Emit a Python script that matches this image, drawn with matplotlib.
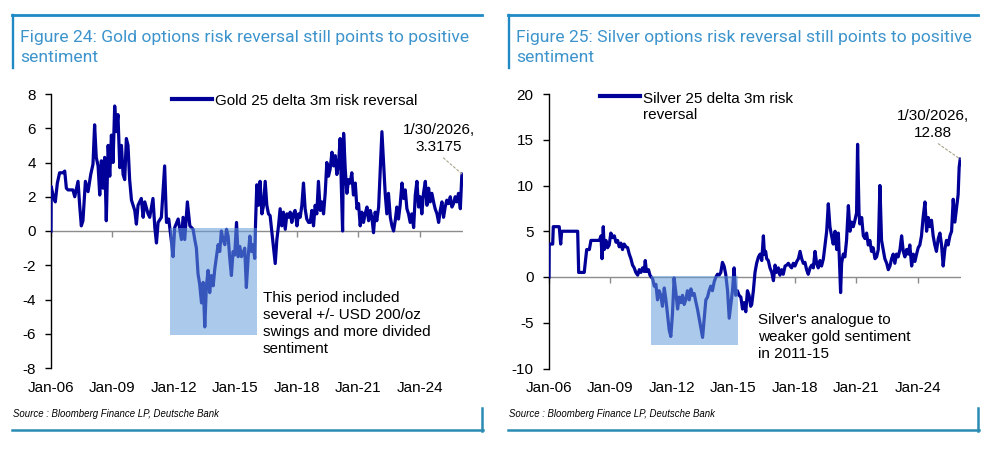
import matplotlib
matplotlib.use("Agg")
import matplotlib.pyplot as plt
from matplotlib.lines import Line2D
from matplotlib.patches import Rectangle

# ---------------- data (decimal years) ----------------
gold_t = [2006.00, 2006.01, 2006.10, 2006.21, 2006.31, 2006.42, 2006.59, 2006.67, 2006.75, 2006.83,
          2007.07, 2007.16, 2007.32, 2007.40, 2007.48, 2007.56, 2007.68, 2007.81, 2007.94, 2008.05,
          2008.13, 2008.21, 2008.30, 2008.38, 2008.46, 2008.54, 2008.62, 2008.70, 2008.79, 2008.87,
          2008.95, 2009.03, 2009.11, 2009.19, 2009.27, 2009.36, 2009.44, 2009.52, 2009.60, 2009.68,
          2009.76, 2009.84, 2009.93, 2010.09, 2010.17, 2010.25, 2010.41, 2010.50, 2010.58, 2010.74,
          2010.82, 2010.98, 2011.07, 2011.15, 2011.23, 2011.39, 2011.55, 2011.64, 2011.75, 2011.88,
          2011.96, 2012.04, 2012.21, 2012.37, 2012.45, 2012.53, 2012.66, 2012.78, 2012.94, 2013.02,
          2013.10, 2013.18, 2013.26, 2013.35, 2013.43, 2013.51, 2013.59, 2013.67, 2013.75, 2013.83,
          2013.92, 2014.00, 2014.08, 2014.16, 2014.24, 2014.32, 2014.40, 2014.49, 2014.57, 2014.65,
          2014.73, 2014.81, 2014.89, 2014.97, 2015.06, 2015.14, 2015.22, 2015.30, 2015.38, 2015.46,
          2015.54, 2015.63, 2015.71, 2015.79, 2015.87, 2015.95, 2015.99, 2016.05, 2016.13, 2016.21,
          2016.30, 2016.38, 2016.46, 2016.54, 2016.62, 2016.70, 2016.78, 2016.87, 2016.95, 2017.03,
          2017.11, 2017.19, 2017.27, 2017.35, 2017.44, 2017.52, 2017.60, 2017.68, 2017.76, 2017.84,
          2017.92, 2018.01, 2018.09, 2018.17, 2018.25, 2018.33, 2018.41, 2018.49, 2018.58, 2018.66,
          2018.74, 2018.82, 2018.90, 2018.98, 2019.06, 2019.15, 2019.23, 2019.31, 2019.39, 2019.47,
          2019.55, 2019.63, 2019.72, 2019.80, 2019.88, 2019.96, 2020.04, 2020.12, 2020.17, 2020.24,
          2020.29, 2020.37, 2020.45, 2020.53, 2020.61, 2020.69, 2020.77, 2020.86, 2020.94, 2021.02,
          2021.10, 2021.18, 2021.26, 2021.34, 2021.43, 2021.51, 2021.59, 2021.67, 2021.75, 2021.83,
          2021.91, 2022.00, 2022.08, 2022.16, 2022.24, 2022.32, 2022.40, 2022.48, 2022.57, 2022.65,
          2022.73, 2022.81, 2022.89, 2022.97, 2023.05, 2023.14, 2023.22, 2023.30, 2023.38, 2023.46,
          2023.54, 2023.62, 2023.71, 2023.79, 2023.87, 2023.95, 2024.03, 2024.11, 2024.19, 2024.28,
          2024.36, 2024.44, 2024.52, 2024.60, 2024.70, 2024.76, 2024.85, 2024.93, 2025.01, 2025.09,
          2025.17, 2025.25, 2025.33, 2025.42, 2025.50, 2025.58, 2025.66, 2025.74, 2025.82, 2025.90,
          2025.99, 2026.06, 2026.08]
gold_v = [0.0, 2.6, 2.1, 1.7, 2.8, 3.4, 3.4, 3.5, 2.5, 2.4,
          2.4, 2.0, 2.9, 1.5, 0.3, 0.6, 2.9, 2.3, 3.3, 3.9,
          6.2, 4.3, 3.8, 2.1, 4.1, 2.5, 4.3, 0.6, 5.0, 3.2,
          5.6, 4.0, 7.3, 5.8, 6.8, 3.7, 5.0, 3.3, 3.0, 5.4,
          5.0, 3.0, 1.8, 1.2, 0.4, 1.5, 1.9, 0.8, 1.7, 1.0,
          0.8, 1.9, 0.2, -0.7, 0.5, 0.8, 3.8, 0.5, 0.7, -0.6,
          -1.5, 0.2, 0.7, -0.5, 0.8, -0.5, 1.7, 0.3, 0.1, -0.5,
          -1.0, -2.5, -3.1, -4.2, -3.0, -5.6, -3.2, -2.3, -3.6, -2.6,
          -3.2, -2.2, -1.5, -0.8, -1.2, 0.0, -0.5, -0.8, 0.1, -0.3,
          -1.6, -2.6, -1.2, -1.4, 0.5, -1.5, -0.9, -1.5, -1.3, -1.0,
          -3.3, -1.5, -0.3, -1.2, -0.8, -1.6, 0.5, 2.7, 1.5, 2.9,
          1.0, 1.5, 2.9, 1.5, 1.0, 0.9, 0.0, -1.0, -1.9, -0.5,
          0.3, 1.3, 0.3, 1.1, 0.1, 1.0, 0.8, 1.1, 0.5, 1.0,
          1.2, 0.3, 1.0, 0.8, 1.5, 2.8, 1.3, 0.7, 0.5, 0.5,
          1.2, 0.3, 1.5, 1.0, 2.9, 1.2, 1.7, 1.0, 2.2, 4.0,
          3.2, 3.6, 4.6, 3.8, 4.4, 3.3, 3.9, 5.4, 3.0, 0.0,
          5.7, 3.6, 2.2, 3.0, 2.8, 3.4, 2.1, 2.8, 1.3, 1.6,
          0.3, 1.1, 0.5, 1.0, 1.4, 0.6, 1.2, 0.8, -0.1, 1.1,
          0.6, 1.4, 3.6, 5.8, 4.0, 2.2, 1.0, 2.2, 0.8, 0.3,
          0.0, 0.6, 1.4, 0.7, 1.5, 2.8, 1.9, 2.4, 1.3, 1.0,
          0.5, 1.0, 0.2, 2.1, 2.9, 1.4, 2.0, 1.0, 2.2, 2.9,
          1.5, 2.5, 1.7, 2.2, 1.6, 1.3, 1.0, 0.5, 1.2, 1.7,
          0.8, 1.4, 1.8, 1.6, 2.0, 1.4, 1.6, 2.0, 1.7, 2.2,
          1.3, 3.2, 3.3175]

silver_t = [2006.00, 2006.01, 2006.18, 2006.21, 2006.50, 2006.57, 2006.62, 2007.40, 2007.45, 2007.72,
            2007.80, 2007.84, 2007.97, 2008.05, 2008.46, 2008.54, 2008.59, 2008.65, 2008.70, 2008.78,
            2008.86, 2008.94, 2009.02, 2009.11, 2009.19, 2009.27, 2009.35, 2009.43, 2009.51, 2009.59,
            2009.67, 2009.76, 2009.84, 2009.92, 2010.00, 2010.08, 2010.16, 2010.24, 2010.33, 2010.41,
            2010.49, 2010.57, 2010.65, 2010.70, 2010.76, 2010.86, 2010.93, 2011.06, 2011.14, 2011.22,
            2011.30, 2011.38, 2011.46, 2011.54, 2011.63, 2011.71, 2011.79, 2011.87, 2011.95, 2012.03,
            2012.11, 2012.20, 2012.28, 2012.36, 2012.44, 2012.52, 2012.60, 2012.68, 2012.76, 2012.85,
            2012.93, 2013.01, 2013.09, 2013.17, 2013.25, 2013.33, 2013.41, 2013.50, 2013.58, 2013.66,
            2013.74, 2013.82, 2013.90, 2013.98, 2014.07, 2014.15, 2014.23, 2014.31, 2014.39, 2014.47,
            2014.55, 2014.63, 2014.72, 2014.80, 2014.88, 2014.96, 2015.04, 2015.12, 2015.20, 2015.28,
            2015.37, 2015.45, 2015.53, 2015.61, 2015.69, 2015.77, 2015.85, 2015.90, 2015.98, 2016.06,
            2016.14, 2016.23, 2016.31, 2016.39, 2016.47, 2016.52, 2016.58, 2016.63, 2016.71, 2016.79,
            2016.88, 2016.96, 2017.04, 2017.12, 2017.20, 2017.28, 2017.36, 2017.44, 2017.53, 2017.61,
            2017.69, 2017.77, 2017.85, 2017.93, 2018.01, 2018.10, 2018.18, 2018.26, 2018.34, 2018.42,
            2018.50, 2018.58, 2018.66, 2018.75, 2018.83, 2018.91, 2018.99, 2019.07, 2019.15, 2019.23,
            2019.31, 2019.40, 2019.48, 2019.56, 2019.64, 2019.72, 2019.80, 2019.88, 2019.97, 2020.05,
            2020.13, 2020.18, 2020.24, 2020.29, 2020.37, 2020.45, 2020.53, 2020.62, 2020.70, 2020.78,
            2020.86, 2020.94, 2021.02, 2021.07, 2021.14, 2021.18, 2021.27, 2021.35, 2021.43, 2021.51,
            2021.59, 2021.67, 2021.75, 2021.83, 2021.92, 2022.00, 2022.08, 2022.16, 2022.24, 2022.32,
            2022.40, 2022.49, 2022.57, 2022.65, 2022.73, 2022.81, 2022.89, 2022.97, 2023.05, 2023.14,
            2023.22, 2023.30, 2023.38, 2023.46, 2023.54, 2023.62, 2023.71, 2023.79, 2023.87, 2023.95,
            2024.03, 2024.11, 2024.19, 2024.27, 2024.36, 2024.44, 2024.52, 2024.60, 2024.68, 2024.76,
            2024.84, 2024.92, 2025.01, 2025.09, 2025.17, 2025.25, 2025.33, 2025.41, 2025.49, 2025.58,
            2025.66, 2025.74, 2025.82, 2025.90, 2025.98, 2026.03, 2026.08]
silver_v = [0.0, 3.6, 3.6, 5.5, 5.5, 3.6, 5.0, 5.0, 0.5, 0.5,
            2.2, 3.0, 3.0, 4.0, 4.0, 4.5, 2.0, 5.5, 3.0, 4.0,
            3.2, 3.5, 4.8, 4.3, 4.5, 3.8, 4.0, 3.3, 3.7, 3.0,
            3.6, 3.3, 3.2, 2.5, 2.0, 1.3, 1.0, 0.5, 0.2, 0.8,
            0.5, 1.0, 0.6, 1.8, 0.6, 0.8, 0.2, -0.2, -1.0, -0.8,
            -2.5, -1.5, -2.0, -3.2, -1.2, -2.5, -4.2, -5.8, -6.5, -4.0,
            -0.1, -1.8, -3.5, -2.2, -2.8, -2.0, -3.0, -2.5, -1.5, -2.5,
            -1.3, -2.0, -1.8, -2.7, -3.5, -4.5, -5.5, -6.6, -4.5, -2.5,
            -2.2, -1.5, -1.0, -1.5, -0.5, 0.0, 0.3, 0.2, 0.5, 1.6,
            1.2, 0.3, -1.5, -4.5, -3.0, -1.5, 1.0, -2.0, -1.5, -2.0,
            -2.2, -3.5, -2.8, -3.8, -1.5, -2.0, -3.2, -3.0, -1.5, 0.5,
            1.5, 2.2, 2.5, 1.8, 4.5, 2.5, 2.8, 2.0, 1.8, 1.0,
            0.5, -0.4, 1.3, 0.5, 1.0, 0.2, 0.8, 0.3, 1.2, 1.3,
            1.5, 1.2, 1.0, 1.5, 1.2, 1.7, 2.0, 2.8, 2.0, 1.5,
            1.6, 0.8, 0.3, 1.0, 1.3, 1.0, 2.8, 1.5, 1.0, 1.8,
            1.2, 2.0, 3.5, 5.0, 8.0, 5.5, 4.5, 3.6, 5.0, 3.0,
            4.8, 2.0, -1.7, 1.5, 2.5, 2.2, 4.0, 7.8, 5.0, 6.0,
            5.5, 6.2, 7.0, 14.5, 7.0, 5.8, 6.5, 4.5, 4.2, 4.8,
            3.5, 4.0, 2.8, 3.2, 2.0, 2.2, 3.0, 10.0, 4.0, 3.0,
            2.0, 1.5, 0.8, 1.2, 2.0, 2.5, 1.5, 2.5, 2.2, 3.0,
            4.5, 2.8, 2.2, 3.0, 2.5, 3.5, 1.2, 2.5, 1.7, 2.5,
            3.2, 3.5, 4.5, 6.5, 8.2, 5.0, 6.5, 5.5, 6.2, 4.5,
            3.5, 2.8, 4.2, 4.8, 3.5, 1.2, 3.0, 4.0, 3.5, 4.5,
            5.0, 8.5, 6.0, 7.5, 9.0, 12.0, 12.88]

tick_years = [2006, 2009, 2012, 2015, 2018, 2021, 2024]
tick_labels = ["Jan-06", "Jan-09", "Jan-12", "Jan-15", "Jan-18", "Jan-21", "Jan-24"]
gold_yticks = [-8, -6, -4, -2, 0, 2, 4, 6, 8]
silver_yticks = [-10, -5, 0, 5, 10, 15, 20]

gold_title = "Figure 24: Gold options risk reversal still points to positive\nsentiment"
silver_title = "Figure 25: Silver options risk reversal still points to positive\nsentiment"
gold_legend = "Gold 25 delta 3m risk reversal"
silver_legend = "Silver 25 delta 3m risk\nreversal"
gold_end_label = "1/30/2026,\n3.3175"
silver_end_label = "1/30/2026,\n12.88"
gold_note = "This period included\nseveral +/- USD 200/oz\nswings and more divided\nsentiment"
silver_note = "Silver's analogue to\nweaker gold sentiment\nin 2011-15"
source_text = "Source : Bloomberg Finance LP, Deutsche Bank"

# shaded periods: (start year, end year, low, high)
gold_shade = (2011.81, 2016.06, -6.1, 0.16)
silver_shade = (2010.98, 2015.22, -7.4, 0.1)

# ---------------- style ----------------
W, H = 990, 449
LINE_C = "#000099"
SHADE_C = "#669dd9"
TITLE_C = "#3d94cc"
TOP_C = "#1f8ac4"
BOT_C = "#2a8cb2"
SANS = ["Liberation Sans", "DejaVu Sans"]
FS = 11

plt.rcParams["font.family"] = SANS

fig = plt.figure(figsize=(W / 100, H / 100), dpi=100)


def fx(x):
    return x / W


def fy(y):
    return 1 - y / H


def frame(x0, x1):
    # top rule + left stub, bottom rule + right stub
    fig.add_artist(Line2D([fx(x0), fx(x1)], [fy(15), fy(15)], color=TOP_C, lw=2.0))
    fig.add_artist(Line2D([fx(x0 + 1), fx(x0 + 1)], [fy(15), fy(68)], color=TOP_C, lw=1.7))
    fig.add_artist(Line2D([fx(x0), fx(x1 + 1)], [fy(430), fy(430)], color=BOT_C, lw=1.8))
    fig.add_artist(Line2D([fx(x1), fx(x1)], [fy(408), fy(431)], color=BOT_C, lw=1.8))


def panel(rect_px, t, v, yticks, ylim, shade, title, tx, leg_x, leg_y, leg_text, leg_base,
          end_label, end_off, note, note_xy, src_x):
    x0, y_top, x1, y_bot = rect_px
    ax = fig.add_axes([fx(x0), fy(y_bot), (x1 - x0) / W, (y_bot - y_top) / H])
    ax.set_xlim(2006.0, 2026.12)
    ax.set_ylim(*ylim)
    ax.plot(t, v, color=LINE_C, lw=2.3, zorder=3, solid_joinstyle="round")
    lo_x, hi_x, lo_y, hi_y = shade
    ax.add_patch(Rectangle((lo_x, lo_y), hi_x - lo_x, hi_y - lo_y, facecolor=SHADE_C,
                           alpha=0.55, edgecolor="none", zorder=4))
    ax.axhline(0, color="#8c8c8c", lw=1.0, zorder=2)
    for s in ["top", "right", "bottom"]:
        ax.spines[s].set_visible(False)
    ax.spines["left"].set_linewidth(1.0)
    ax.set_yticks(yticks)
    ax.set_yticklabels([str(y) for y in yticks])
    ax.tick_params(axis="y", direction="out", length=4, width=1, pad=7, labelsize=FS)
    ax.set_xticks(tick_years)
    ax.set_xticklabels(tick_labels)
    ax.tick_params(axis="x", length=0, pad=9, labelsize=FS)
    sec = ax.secondary_xaxis(0, transform=ax.transData)
    sec.spines["bottom"].set_visible(False)
    sec.set_xticks(tick_years)
    sec.tick_params(axis="x", direction="out", length=4, width=1, color="#8c8c8c",
                    labelbottom=False)
    ax.patch.set_alpha(0)

    # end-point label with dashed leader
    ax.annotate(end_label, xy=(t[-1], v[-1]), xytext=end_off, textcoords="offset pixels",
                ha="center", va="bottom", fontsize=FS, linespacing=1.25,
                arrowprops=dict(arrowstyle="-", linestyle=(0, (2, 2)), color="#a8a48a",
                                lw=0.8, shrinkA=1, shrinkB=0, relpos=(0.5, 0.0)))

    # legend (baseline given for the last text line)
    fig.add_artist(Line2D([fx(leg_x), fx(leg_x + 40)], [fy(leg_y), fy(leg_y)],
                          color=LINE_C, lw=3.0))
    fig.text(fx(leg_x + 43), fy(leg_base), leg_text, fontsize=FS, va="baseline",
             ha="left", linespacing=1.25)

    # note (baseline given for the last text line)
    fig.text(fx(note_xy[0]), fy(note_xy[1]), note, fontsize=FS, va="baseline", ha="left",
             linespacing=1.27)

    # title (baseline of last line)
    fig.text(fx(tx), fy(61.7), title, family=["Roboto", "DejaVu Sans"], fontsize=12.6,
             color=TITLE_C, va="baseline", ha="left", linespacing=1.4)

    # source
    fig.text(fx(src_x), fy(416.7), source_text, fontsize=6.9, style="italic",
             va="baseline", ha="left")
    return ax


panel((51, 94, 463, 368), gold_t, gold_v, gold_yticks, (-8, 8), gold_shade,
      gold_title, 20, 172, 99, gold_legend, 105, gold_end_label, (-23, 20), gold_note,
      (263, 352.7), 13)
panel((549, 94, 961, 368.5), silver_t, silver_v, silver_yticks, (-10, 20), silver_shade,
      silver_title, 516, 600, 96, silver_legend, 119.3, silver_end_label, (-27, 19), silver_note,
      (758, 357.7), 509)

frame(12, 482)
frame(508, 978)

fig.savefig("out.png", dpi=100, facecolor="white")
